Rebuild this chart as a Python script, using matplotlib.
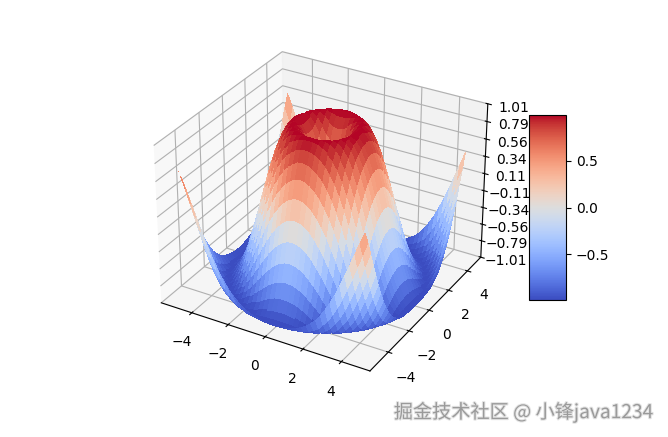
import numpy as np
import matplotlib
matplotlib.use("Agg")
import matplotlib.pyplot as plt
import matplotlib.patheffects as pe
from matplotlib import cm
from matplotlib.ticker import LinearLocator, FuncFormatter

# ============================
# Data
# ============================
# height of the surface against distance from the centre
radius = [0, 0.25, 0.5, 0.75, 1, 1.25, 1.5, 1.75, 2, 2.25, 2.5, 2.75, 3, 3.25, 3.5,
          3.75, 4, 4.25, 4.5, 4.75, 5, 5.25, 5.5, 5.75, 6, 6.25, 6.5, 6.75, 7, 7.25]
height = [0, 0.247, 0.479, 0.682, 0.841, 0.949, 0.997, 0.984, 0.909, 0.778, 0.598,
          0.382, 0.141, -0.108, -0.351, -0.572, -0.757, -0.895, -0.978, -0.999,
          -0.959, -0.859, -0.706, -0.508, -0.279, -0.033, 0.215, 0.451, 0.657, 0.823]
grid_start = -5
grid_stop = 5
grid_step = 0.25
z_limits = (-1.01, 1.01)
watermark = "掘金技术社区 @ 小锋java1234"

# ============================
# Surface
# ============================
x = np.arange(grid_start, grid_stop, grid_step)
y = np.arange(grid_start, grid_stop, grid_step)
X, Y = np.meshgrid(x, y)
Z = np.interp(np.hypot(X, Y), radius, height)

fig = plt.figure(figsize=(6.68, 4.37), dpi=100)
ax = fig.add_axes([0.1375, 0.0975, 0.68, 0.85], projection="3d")
surf = ax.plot_surface(X, Y, Z, cmap=cm.coolwarm, linewidth=0, antialiased=False)

ax.set_zlim(*z_limits)
ax.zaxis.set_major_locator(LinearLocator(10))
ax.zaxis.set_major_formatter(FuncFormatter(lambda v, pos: f"{v:.2f}".replace("-", "\u2212")))

cax = fig.add_axes([529 / 668, 1 - 300 / 437, 37 / 668, 185 / 437])
fig.colorbar(surf, cax=cax)

# ============================
# Watermark
# ============================
fig.text(0.978, 0.056, watermark, ha="right", va="center", fontsize=13.8, color="#9a9a9a",
         family=["Noto Sans CJK SC", "DejaVu Sans"],
         path_effects=[pe.withStroke(linewidth=1.5, foreground="#e4e4e4")])

fig.savefig("out.png", dpi=100)
